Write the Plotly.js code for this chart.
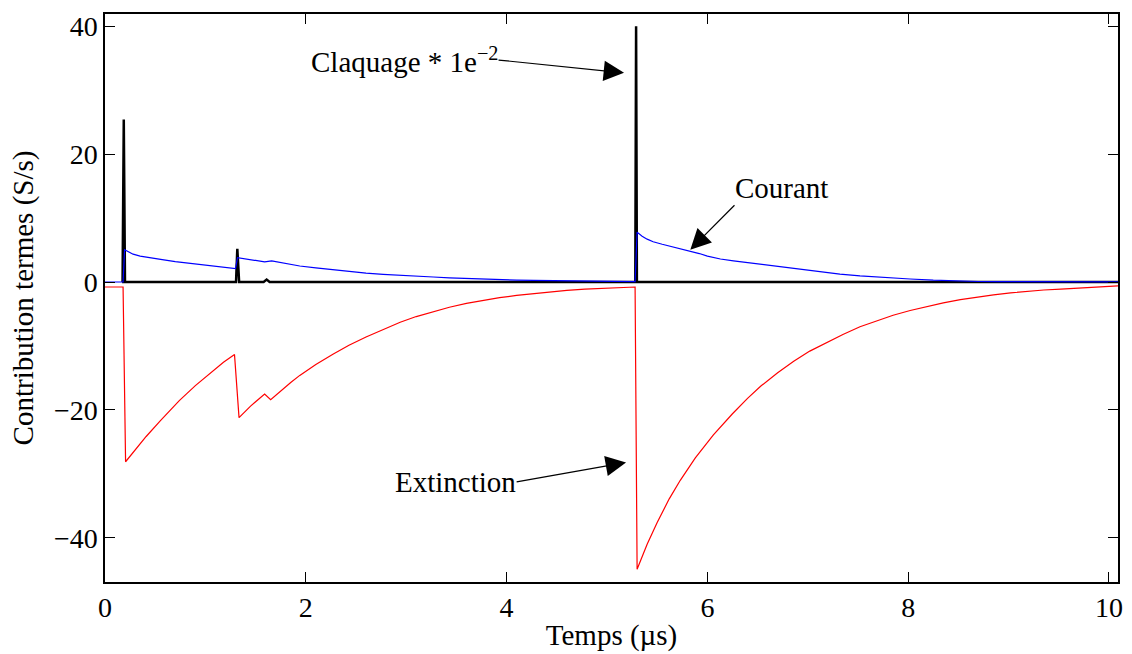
<!DOCTYPE html>
<html>
<head>
<meta charset="utf-8">
<script src="https://cdn.plot.ly/plotly-3.0.1.min.js"></script>
<style>html,body{margin:0;padding:0;background:#fff;}#chart{width:1132px;height:654px;}</style>
</head>
<body>
<div id="chart"></div>
<script>
// Claquage * 1e-2 (black)
const claquageT = [0.17, 0.175, 0.187, 0.199, 0.21, 1.30, 1.305, 1.318, 1.331, 1.336, 1.58, 1.61, 1.64, 5.27, 5.282, 5.29, 5.298, 5.31, 10.09];
const claquageV = [0, 0, 25.4, 0, 0, 0, 0, 5.2, 0, 0, 0, 0.37, 0, 0, 0, 40, 0, 0, 0];

// Courant (blue)
const courantT = [0, 0.18, 0.195, 0.23, 0.28, 0.35, 0.44, 0.57, 0.70, 0.85, 1.00, 1.15, 1.30, 1.32, 1.45, 1.59, 1.66, 1.80, 1.94, 2.10, 2.27, 2.43, 2.60, 2.77, 2.94, 3.10, 3.27, 3.43, 3.60, 3.77, 3.93, 4.10, 4.27, 4.45, 4.60, 4.93, 5.28,
  5.30, 5.35, 5.40, 5.46, 5.55, 5.65, 5.75, 5.83, 5.92, 6.00, 6.13, 6.26, 6.39, 6.63, 6.87, 7.12, 7.32, 7.52, 7.77, 8.02, 8.25, 8.45, 8.70, 8.90, 10.09];
const courantV = [0, 0, 5.06, 4.75, 4.35, 4.05, 3.8, 3.5, 3.2, 2.95, 2.7, 2.4, 2.1, 3.8, 3.5, 3.15, 3.3, 2.9, 2.5, 2.2, 1.9, 1.65, 1.4, 1.2, 1.03, 0.9, 0.78, 0.66, 0.55, 0.45, 0.37, 0.3, 0.24, 0.19, 0.15, 0.1, 0.05,
  7.8, 7.15, 6.7, 6.3, 5.9, 5.5, 5.15, 4.9, 4.45, 4.05, 3.6, 3.3, 3.05, 2.6, 2.1, 1.56, 1.22, 0.95, 0.68, 0.47, 0.28, 0.15, 0.08, 0.05, 0.03];

// Extinction (red)
const extinctionT = [0, 0.18, 0.205, 0.30, 0.41, 0.55, 0.74, 0.90, 1.07, 1.18, 1.29, 1.335, 1.45, 1.59, 1.65, 1.75, 1.85, 1.94, 2.10, 2.27, 2.43, 2.60, 2.77, 2.94, 3.10, 3.27, 3.43, 3.60, 3.77, 3.93, 4.10, 4.27, 4.45, 4.60, 4.78, 4.93, 5.10, 5.28,
  5.30, 5.40, 5.50, 5.62, 5.73, 5.88, 6.06, 6.25, 6.40, 6.53, 6.70, 6.86, 7.02, 7.19, 7.35, 7.52, 7.68, 7.85, 8.02, 8.19, 8.35, 8.52, 8.68, 8.85, 9.02, 9.18, 9.35, 9.52, 9.80, 10.09];
const extinctionV = [-0.78, -0.78, -28.1, -26.2, -24.15, -21.7, -18.55, -16.2, -13.9, -12.55, -11.35, -21.2, -19.4, -17.5, -18.4, -17.0, -15.7, -14.6, -12.9, -11.3, -9.9, -8.6, -7.4, -6.3, -5.4, -4.6, -3.95, -3.35, -2.85, -2.45, -2.1, -1.8, -1.5, -1.3, -1.1, -1.0, -0.88, -0.78,
  -44.9, -41.0, -37.6, -33.9, -31.0, -27.5, -23.9, -20.6, -18.2, -16.3, -14.2, -12.4, -10.8, -9.4, -8.2, -7.0, -6.1, -5.2, -4.45, -3.8, -3.25, -2.75, -2.35, -2.0, -1.7, -1.45, -1.25, -1.1, -0.85, -0.6];

const xTicks = [0, 2, 4, 6, 8, 10];
const yTicks = [-40, -20, 0, 20, 40];

const font = 'Liberation Serif, Times New Roman, serif';

const traces = [
  {x: claquageT, y: claquageV, mode: 'lines', line: {color: '#000000', width: 2.5}, name: 'Claquage'},
  {x: courantT, y: courantV, mode: 'lines', line: {color: '#0000ff', width: 1.2}, name: 'Courant'},
  {x: extinctionT, y: extinctionV, mode: 'lines', line: {color: '#ff0000', width: 1.2}, name: 'Extinction'}
];

const axisCommon = {
  showgrid: false, zeroline: false, showline: true, linecolor: '#000', linewidth: 1.7,
  mirror: 'ticks', ticks: 'inside', ticklen: 10, tickwidth: 1, tickcolor: '#000',
  tickfont: {family: font, size: 28, color: '#000'}
};

const annFont = {family: font, size: 29, color: '#000'};
const arrowStyle = {showarrow: true, arrowhead: 2, arrowsize: 3.4, arrowwidth: 1.2, arrowcolor: '#000', axref: 'x', ayref: 'y', xref: 'x', yref: 'y', font: annFont, borderpad: 0};

const layout = {
  width: 1132, height: 654,
  margin: {l: 105, r: 14, t: 14, b: 72},
  paper_bgcolor: '#fff', plot_bgcolor: '#fff',
  showlegend: false,
  xaxis: Object.assign({}, axisCommon, {
    range: [0, 10.09], tickvals: xTicks, ticktext: xTicks.map(String),
    title: {text: 'Temps (µs)', font: {family: font, size: 29, color: '#000'}, standoff: 2}
  }),
  yaxis: Object.assign({}, axisCommon, {
    range: [-46.9, 41.9], tickvals: yTicks, ticktext: yTicks.map(v => v < 0 ? '\u2212' + Math.abs(v) : String(v)),
    title: {text: 'Contribution termes (S/s)', font: {family: font, size: 29, color: '#000'}, standoff: 12}
  }),
  annotations: [
    Object.assign({}, arrowStyle, {x: 5.17, y: 32.7, ax: 3.92, ay: 34.7, text: 'Claquage * 1e<sup>\u22122</sup>', xanchor: 'right', yanchor: 'middle'}),
    Object.assign({}, arrowStyle, {x: 5.83, y: 5.06, ax: 6.27, ay: 12.0, text: 'Courant', xanchor: 'left', yanchor: 'bottom'}),
    Object.assign({}, arrowStyle, {x: 5.19, y: -28.2, ax: 4.10, ay: -31.25, text: 'Extinction', xanchor: 'right', yanchor: 'middle'})
  ]
};

Plotly.newPlot('chart', traces, layout, {displayModeBar: false, staticPlot: true});
</script>
</body>
</html>
